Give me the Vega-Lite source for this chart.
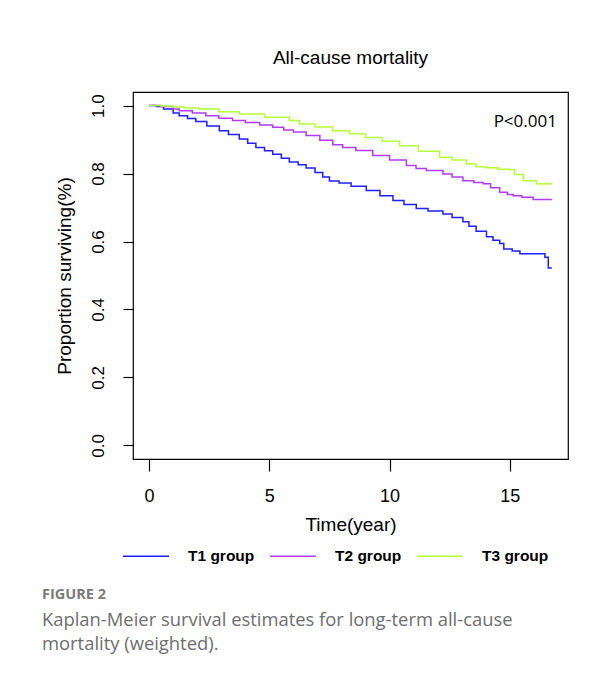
{
  "$schema": "https://vega.github.io/schema/vega-lite/v6.json",
  "padding": {"left": 42, "top": 48, "right": 10, "bottom": 10},
  "background": "white",
  "title": {
    "text": "FIGURE 2",
    "subtitle": ["Kaplan-Meier survival estimates for long-term all-cause", "mortality (weighted)."],
    "orient": "bottom",
    "anchor": "start",
    "frame": "group",
    "font": "Open Sans",
    "fontSize": 14.5,
    "fontWeight": "bold",
    "color": "#7a7a7a",
    "subtitleFont": "Open Sans",
    "subtitleFontSize": 18.4,
    "subtitleColor": "#6e6e6e",
    "subtitleLineHeight": 24,
    "subtitlePadding": 8,
    "offset": 23,
    "dx": -91
  },
  "config": {
    "view": {"stroke": "black", "strokeWidth": 1.2},
    "axis": {
      "domain": false,
      "grid": false,
      "tickColor": "black",
      "tickSize": 12,
      "tickWidth": 1.2,
      "labelFont": "Liberation Sans",
      "labelColor": "black",
      "labelFontSize": 18,
      "titleFont": "Liberation Sans",
      "titleFontWeight": "normal",
      "titleColor": "black",
      "titleFontSize": 19
    }
  },
  "datasets": {
    "km": [
      {"group": "T1 group", "t": 0, "s": 1.0},
      {"group": "T1 group", "t": 0.3, "s": 0.997},
      {"group": "T1 group", "t": 0.6, "s": 0.99},
      {"group": "T1 group", "t": 1.0, "s": 0.978},
      {"group": "T1 group", "t": 1.25, "s": 0.97},
      {"group": "T1 group", "t": 1.6, "s": 0.962},
      {"group": "T1 group", "t": 1.94, "s": 0.953},
      {"group": "T1 group", "t": 2.4, "s": 0.94},
      {"group": "T1 group", "t": 2.92, "s": 0.926},
      {"group": "T1 group", "t": 3.3, "s": 0.915},
      {"group": "T1 group", "t": 3.75, "s": 0.902},
      {"group": "T1 group", "t": 4.1, "s": 0.889},
      {"group": "T1 group", "t": 4.44, "s": 0.877},
      {"group": "T1 group", "t": 4.8, "s": 0.867},
      {"group": "T1 group", "t": 5.14, "s": 0.857},
      {"group": "T1 group", "t": 5.5, "s": 0.845},
      {"group": "T1 group", "t": 5.83, "s": 0.834},
      {"group": "T1 group", "t": 6.2, "s": 0.826},
      {"group": "T1 group", "t": 6.53, "s": 0.816},
      {"group": "T1 group", "t": 6.9, "s": 0.803},
      {"group": "T1 group", "t": 7.22, "s": 0.79},
      {"group": "T1 group", "t": 7.5, "s": 0.778},
      {"group": "T1 group", "t": 7.9, "s": 0.772},
      {"group": "T1 group", "t": 8.4, "s": 0.763},
      {"group": "T1 group", "t": 9.03, "s": 0.75},
      {"group": "T1 group", "t": 9.6, "s": 0.735},
      {"group": "T1 group", "t": 10.14, "s": 0.721},
      {"group": "T1 group", "t": 10.6, "s": 0.709},
      {"group": "T1 group", "t": 11.11, "s": 0.697},
      {"group": "T1 group", "t": 11.6, "s": 0.69},
      {"group": "T1 group", "t": 12.22, "s": 0.681},
      {"group": "T1 group", "t": 12.6, "s": 0.671},
      {"group": "T1 group", "t": 13.05, "s": 0.658},
      {"group": "T1 group", "t": 13.3, "s": 0.645},
      {"group": "T1 group", "t": 13.6, "s": 0.63},
      {"group": "T1 group", "t": 14.03, "s": 0.614},
      {"group": "T1 group", "t": 14.3, "s": 0.604},
      {"group": "T1 group", "t": 14.58, "s": 0.594},
      {"group": "T1 group", "t": 14.75, "s": 0.578},
      {"group": "T1 group", "t": 15.1, "s": 0.572},
      {"group": "T1 group", "t": 15.42, "s": 0.564},
      {"group": "T1 group", "t": 16.46, "s": 0.554},
      {"group": "T1 group", "t": 16.6, "s": 0.522},
      {"group": "T1 group", "t": 16.75, "s": 0.522},
      {"group": "T2 group", "t": 0, "s": 1.0},
      {"group": "T2 group", "t": 0.5, "s": 0.997},
      {"group": "T2 group", "t": 1.0, "s": 0.99},
      {"group": "T2 group", "t": 1.25, "s": 0.985},
      {"group": "T2 group", "t": 1.8, "s": 0.978},
      {"group": "T2 group", "t": 2.36, "s": 0.97},
      {"group": "T2 group", "t": 2.9, "s": 0.963},
      {"group": "T2 group", "t": 3.47, "s": 0.956},
      {"group": "T2 group", "t": 4.0, "s": 0.95},
      {"group": "T2 group", "t": 4.6, "s": 0.943},
      {"group": "T2 group", "t": 5.14, "s": 0.936},
      {"group": "T2 group", "t": 5.6, "s": 0.928},
      {"group": "T2 group", "t": 6.0, "s": 0.922},
      {"group": "T2 group", "t": 6.53, "s": 0.912},
      {"group": "T2 group", "t": 7.1, "s": 0.898},
      {"group": "T2 group", "t": 7.64, "s": 0.885},
      {"group": "T2 group", "t": 8.05, "s": 0.877},
      {"group": "T2 group", "t": 8.6, "s": 0.868},
      {"group": "T2 group", "t": 9.3, "s": 0.853},
      {"group": "T2 group", "t": 10.0, "s": 0.84},
      {"group": "T2 group", "t": 10.7, "s": 0.824},
      {"group": "T2 group", "t": 11.1, "s": 0.815},
      {"group": "T2 group", "t": 11.53, "s": 0.809},
      {"group": "T2 group", "t": 12.22, "s": 0.799},
      {"group": "T2 group", "t": 12.6, "s": 0.79},
      {"group": "T2 group", "t": 13.05, "s": 0.779},
      {"group": "T2 group", "t": 13.5, "s": 0.774},
      {"group": "T2 group", "t": 13.89, "s": 0.77},
      {"group": "T2 group", "t": 14.2, "s": 0.758},
      {"group": "T2 group", "t": 14.58, "s": 0.745},
      {"group": "T2 group", "t": 14.9, "s": 0.738},
      {"group": "T2 group", "t": 15.14, "s": 0.735},
      {"group": "T2 group", "t": 15.5, "s": 0.73},
      {"group": "T2 group", "t": 15.97, "s": 0.724},
      {"group": "T2 group", "t": 16.75, "s": 0.724},
      {"group": "T3 group", "t": 0, "s": 1.0},
      {"group": "T3 group", "t": 0.5, "s": 0.999},
      {"group": "T3 group", "t": 1.0, "s": 0.996},
      {"group": "T3 group", "t": 1.5, "s": 0.993},
      {"group": "T3 group", "t": 2.08, "s": 0.99},
      {"group": "T3 group", "t": 2.9, "s": 0.982},
      {"group": "T3 group", "t": 3.75, "s": 0.975},
      {"group": "T3 group", "t": 4.8, "s": 0.966},
      {"group": "T3 group", "t": 5.83, "s": 0.956},
      {"group": "T3 group", "t": 6.25, "s": 0.946},
      {"group": "T3 group", "t": 6.9, "s": 0.937},
      {"group": "T3 group", "t": 7.64, "s": 0.926},
      {"group": "T3 group", "t": 8.33, "s": 0.917},
      {"group": "T3 group", "t": 9.0, "s": 0.906},
      {"group": "T3 group", "t": 9.7, "s": 0.895},
      {"group": "T3 group", "t": 10.42, "s": 0.882},
      {"group": "T3 group", "t": 11.2, "s": 0.866},
      {"group": "T3 group", "t": 12.08, "s": 0.848},
      {"group": "T3 group", "t": 12.6, "s": 0.84},
      {"group": "T3 group", "t": 13.19, "s": 0.828},
      {"group": "T3 group", "t": 13.6, "s": 0.82},
      {"group": "T3 group", "t": 14.03, "s": 0.817},
      {"group": "T3 group", "t": 14.5, "s": 0.813},
      {"group": "T3 group", "t": 15.0, "s": 0.811},
      {"group": "T3 group", "t": 15.2, "s": 0.797},
      {"group": "T3 group", "t": 15.56, "s": 0.779},
      {"group": "T3 group", "t": 16.11, "s": 0.77},
      {"group": "T3 group", "t": 16.75, "s": 0.77}
    ],
    "note": [{"t": 16.96, "s": 0.936, "label": "P<0.001"}]
  },
  "vconcat": [
    {
      "width": 435,
      "height": 367,
      "title": {
        "text": "All-cause mortality",
        "font": "Liberation Sans",
        "fontSize": 19,
        "fontWeight": "normal",
        "color": "black",
        "anchor": "middle",
        "frame": "group",
        "offset": 24
      },
      "layer": [
        {
          "data": {"name": "km"},
          "mark": {"type": "line", "interpolate": "step-after", "strokeWidth": 1.5},
          "encoding": {
            "x": {
              "field": "t",
              "type": "quantitative",
              "scale": {"domain": [-0.67, 17.42], "nice": false, "zero": false},
              "axis": {"values": [0, 5, 10, 15], "title": "Time(year)", "labelPadding": 16, "titlePadding": 10, "labelFlush": false}
            },
            "y": {
              "field": "s",
              "type": "quantitative",
              "scale": {"domain": [-0.04, 1.04], "nice": false, "zero": false},
              "axis": {
                "values": [0, 0.2, 0.4, 0.6, 0.8, 1.0],
                "format": ".1f",
                "title": "Proportion surviving(%)",
                "labelAngle": 270,
                "labelAlign": "center",
                "labelBaseline": "alphabetic",
                "tickSize": 10,
                "labelPadding": 20,
                "titlePadding": 15,
                "labelFontSize": 17,
                "labelFlush": false
              }
            },
            "color": {
              "field": "group",
              "type": "nominal",
              "scale": {"domain": ["T1 group", "T2 group", "T3 group"], "range": ["#1f1fff", "#b03cf2", "#b4ff3a"]},
              "legend": {
                "title": null,
                "orient": "none",
                "direction": "horizontal",
                "legendX": -11,
                "legendY": 440,
                "padding": 0,
                "symbolType": "stroke",
                "symbolSize": 2116,
                "symbolStrokeWidth": 1.5,
                "labelOffset": 18,
                "columnPadding": 12,
                "labelFont": "Liberation Sans",
                "labelFontSize": 15.5,
                "labelFontWeight": "bold",
                "labelColor": "black"
              }
            }
          }
        },
        {
          "data": {"name": "note"},
          "mark": {"type": "text", "font": "Open Sans", "fontSize": 17, "align": "right", "baseline": "alphabetic", "color": "black"},
          "encoding": {
            "x": {"field": "t", "type": "quantitative"},
            "y": {"field": "s", "type": "quantitative"},
            "text": {"field": "label"}
          }
        }
      ]
    }
  ]
}
